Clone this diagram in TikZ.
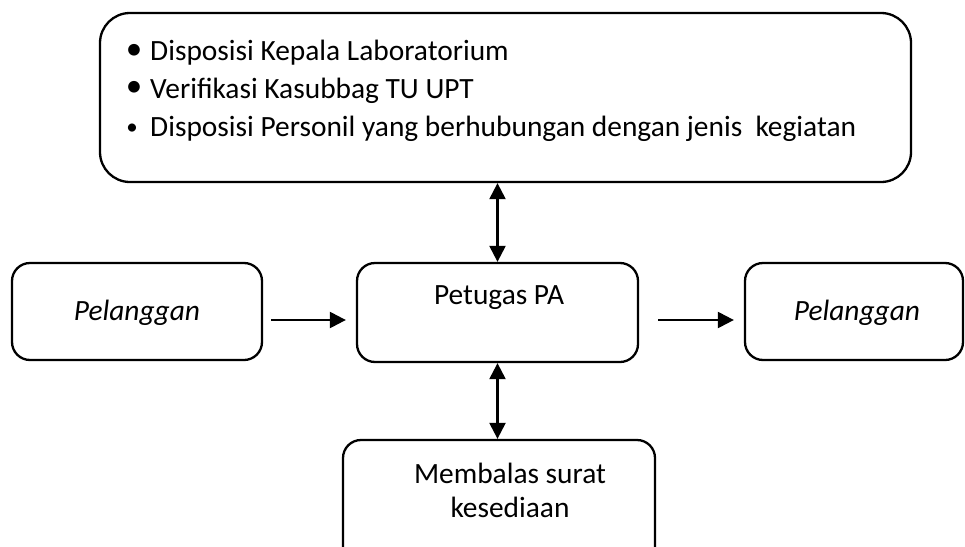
\documentclass[tikz,border=0pt]{standalone}
\usepackage{fontspec}
\setmainfont{Carlito}
\usetikzlibrary{arrows.meta}
\begin{document}
\begin{tikzpicture}[x=1pt,y=-1pt,
  box/.style={draw,line width=2.3pt,rounded corners=#1,inner sep=0pt},
  box/.default=18pt,
  lbl/.style={font=\fontsize{29.4}{36}\selectfont,inner sep=0pt},
  item/.style={lbl,anchor=base west},
  bul/.style={font=\fontsize{#1}{#1}\selectfont,inner sep=0pt},
  tip/.tip={Triangle[length=16pt,width=16pt]},
  conn/.style={line width=2.3pt,-tip},
  bconn/.style={line width=2.3pt,tip-tip}]
\useasboundingbox (0,0) rectangle (965,546);
\clip (0,0) rectangle (965,546);
% boxes
\node[box=30pt,minimum width=811pt,minimum height=169pt] (info) at (505.5,97.5) {};
\node[box,minimum width=281pt,minimum height=99pt] (pa) at (497.5,312.5) {};
\node[box,minimum width=250pt,minimum height=97pt] (inL) at (137,311.5) {};
\node[box,minimum width=218pt,minimum height=97pt] (outR) at (854,311.5) {};
\node[box,minimum width=312pt,minimum height=135pt] (reply) at (499,507.5) {};
% bullet list
\node[bul=33] (b1) at (134,52) {•};
\node[item] (t1) at (150,60) {Disposisi Kepala Laboratorium};
\node[bul=33] (b2) at (134,89) {•};
\node[item] (t2) at (150,98) {Verifikasi Kasubbag TU UPT};
\node[bul=23] (b3) at (132,129) {•};
\node[item] (t3) at (150,136) {Disposisi Personil yang berhubungan dengan jenis\ \ kegiatan};
% labels
\node[lbl] (paT) at (499,298) {Petugas PA};
\node[lbl] (inT) at (137,313) {\itshape Pelanggan};
\node[lbl] (outT) at (857,313) {\itshape Pelanggan};
\node[lbl] (rT1) at (510,473) {Membalas surat};
\node[lbl] (rT2) at (510,507) {kesediaan};
% connectors
\draw[bconn] (pa.north) -- (pa.north |- info.south);
\draw[bconn] (pa.south) -- (pa.south |- reply.north);
\draw[conn] ([xshift=8pt,yshift=-8.5pt]inL.east) -- ([xshift=-10pt,yshift=-8.5pt]inL.east -| pa.west);
\draw[conn] ([xshift=19pt,yshift=-8.5pt]outR.west -| pa.east) -- ([xshift=-10pt,yshift=-8.5pt]outR.west);
\end{tikzpicture}
\end{document}
